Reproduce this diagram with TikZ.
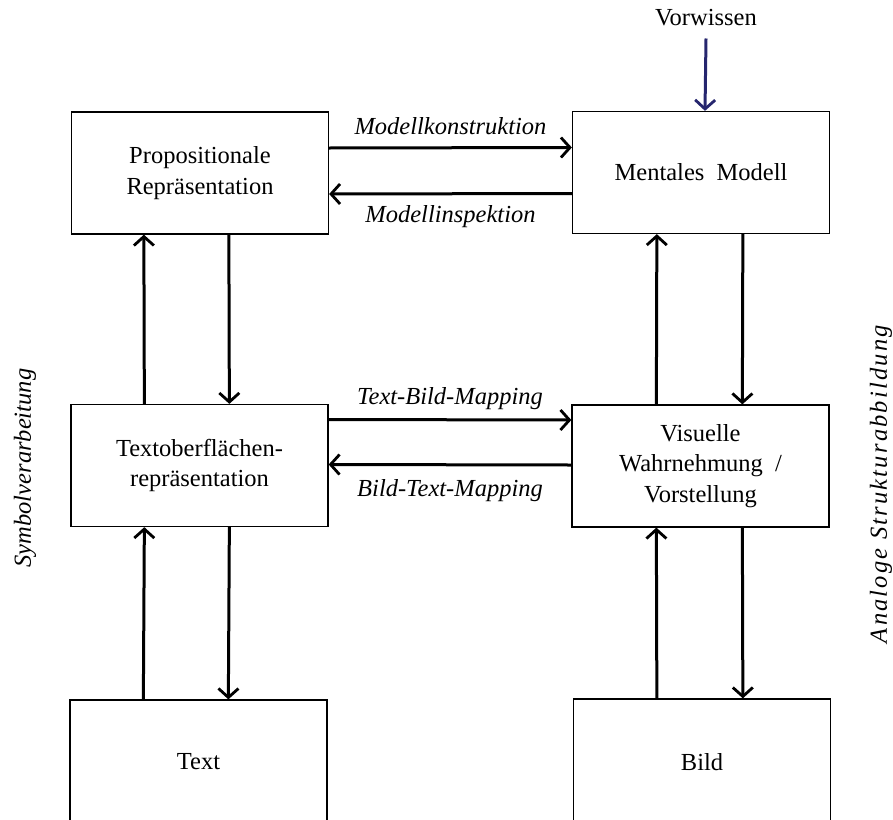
\documentclass[tikz,border=0pt]{standalone}
\usepackage{fontspec}
\setmainfont{Liberation Serif}
\usetikzlibrary{arrows.meta}
\definecolor{vorcol}{RGB}{38,38,110}
\begin{document}
\begin{tikzpicture}[x=1pt,y=-1pt,
  box/.style={draw, line width=1.3pt, minimum width=257pt, minimum height=122pt,
    inner sep=0pt, align=center, font=\fontsize{24.5}{30.5}\selectfont},
  arr/.style={line width=3pt, -{Straight Barb[length=9pt,width=20pt,line width=2.8pt]}},
  lbl/.style={font=\fontsize{24.5}{29}\selectfont\itshape, inner sep=0pt},
  txt/.style={font=\fontsize{24.5}{29}\selectfont, inner sep=0pt}]
\useasboundingbox (0,0) rectangle (893,819);

% boxes
\node[box] (prop) at (200,173) {Propositionale\\Repräsentation};
\node[box] (mm)   at (701,172.5) {Mentales\ \ Modell};
\node[box] (tob)  at (199.5,465.5) {Textoberflächen-\\repräsentation};
\node[box] (vis)  at (700.5,466) {Visuelle\\Wahrnehmung \ /\\Vorstellung};
\node[box, minimum height=124pt] (text) at (198.5,762) {Text};
\node[box, minimum height=126pt] (bild) at (702,762) {Bild};

% prior knowledge input
\node[txt] (vw) at (706,18) {Vorwissen};
\draw[arr, vorcol] ([yshift=-12pt]vw.south) -- ([xshift=4pt]mm.north);

% top horizontal arrows
\draw[arr] ([yshift=25pt]prop.east) -- node[lbl, midway, yshift=22pt] (mk) {Modellkonstruktion} ([yshift=25pt]mm.west);
\draw[arr] ([yshift=-21pt]mm.west) -- node[lbl, midway, yshift=-23pt] (mi) {Modellinspektion} ([yshift=-21pt]prop.east);

% middle horizontal arrows
\draw[arr] ([yshift=46pt]tob.east) -- node[lbl, midway, yshift=21pt] (tb) {Text-Bild-Mapping} ([yshift=46pt]vis.west);
\draw[arr] ([yshift=1pt]vis.west) -- node[lbl, midway, yshift=-26pt] (bt) {Bild-Text-Mapping} ([yshift=1pt]tob.east);

% left column
\draw[arr] ([xshift=74pt]tob.north west) -- ([xshift=73pt]prop.south west);
\draw[arr] ([xshift=158pt]prop.south west) -- ([xshift=159pt]tob.north west);
\draw[arr] ([xshift=74pt]text.north west) -- ([xshift=74pt]tob.south west);
\draw[arr] ([xshift=159pt]tob.south west) -- ([xshift=159pt]text.north west);

% right column
\draw[arr] ([xshift=85pt]vis.north west) -- ([xshift=85pt]mm.south west);
\draw[arr] ([xshift=171pt]mm.south west) -- ([xshift=171pt]vis.north west);
\draw[arr] ([xshift=84pt]bild.north west) -- ([xshift=85pt]vis.south west);
\draw[arr] ([xshift=171pt]vis.south west) -- ([xshift=170pt]bild.north west);

% side captions
\node[lbl, rotate=90] (sv) at (25,468) {Symbolverarbeitung};
\node[lbl, rotate=90] (as) at (881,484) {\addfontfeatures{LetterSpace=9}Analoge Strukturabbildung};
\end{tikzpicture}
\end{document}
